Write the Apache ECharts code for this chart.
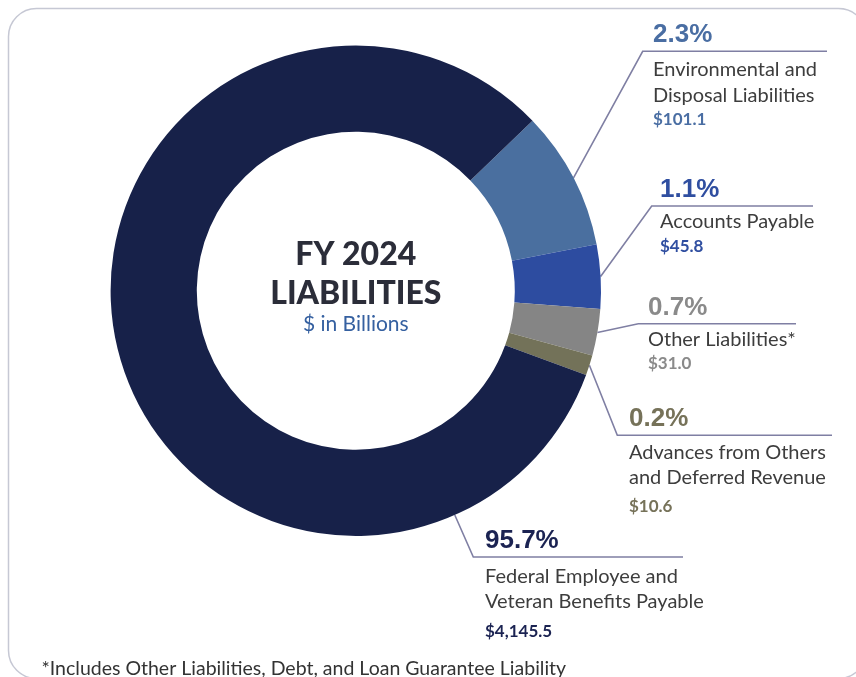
<!DOCTYPE html>
<html><head><meta charset="utf-8">
<script src="https://cdn.jsdelivr.net/npm/echarts@6/dist/echarts.min.js"></script>
<style>html,body{margin:0;padding:0;background:#fff}#c{width:856px;height:677px}</style>
</head><body><div id="c"></div>
<script>
// ---- data ----
const categories = ['Environmental and Disposal Liabilities', 'Accounts Payable', 'Other Liabilities*', 'Advances from Others and Deferred Revenue', 'Federal Employee and Veteran Benefits Payable'];
const nameLines = [['Environmental and', 'Disposal Liabilities'], ['Accounts Payable'], ['Other Liabilities*'], ['Advances from Others', 'and Deferred Revenue'], ['Federal Employee and', 'Veteran Benefits Payable']];
const percents = [2.3, 1.1, 0.7, 0.2, 95.7];
const amounts = [101.1, 45.8, 31.0, 10.6, 4145.5];
// sweep of each slice in degrees as drawn in the source graphic (not drawn to scale)
const arcDegrees = [33.0, 15.2, 11.0, 4.8, 296.0];

// ---- style / layout ----
const sliceColors = ['#4a6f9f', '#2d4ca0', '#858585', '#737259', '#172149'];
const accentColors = ['#4a6ea3', '#2f4ea0', '#8a8a8a', '#767259', '#1b2352'];
const labelBox = [
  { x: 653, base: 44.3, ruleStart: 642.7, ruleEnd: 827, gap: 6.5, valLH: 23.7, anchor: 'mid' },
  { x: 660, base: 199, ruleStart: 651.7, ruleEnd: 813, gap: 3.5, valLH: 24.7, anchor: 'mid' },
  { x: 648, base: 316.7, ruleStart: 638.3, ruleEnd: 796, gap: 3.9, valLH: 23.5, anchor: 'mid' },
  { x: 629, base: 428.3, ruleStart: 617.3, ruleEnd: 832, gap: 5, valLH: 31.9, anchor: 'mid' },
  { x: 485, base: 550, ruleStart: 473.3, ruleEnd: 683, gap: 7.3, valLH: 34.7, anchor: 'nearest' }
];
const CENTER = [355.8, 290.7], R_IN = 159, R_OUT = 245.2;

const rich = { n: { fontFamily: 'Lato', fontSize: 20, lineHeight: 25.5, color: '#3d3d3d' } };
labelBox.forEach((b, i) => {
  rich['p' + i] = { fontFamily: '"Liberation Sans", Arial, sans-serif', fontWeight: 'bold', fontSize: 26, lineHeight: 30, color: accentColors[i] };
  rich['g' + i] = { fontSize: 2, lineHeight: b.gap };
  rich['v' + i] = { fontFamily: 'Lato', fontWeight: 'bold', fontSize: 17, lineHeight: b.valLH, color: accentColors[i] };
});

const fmtAmt = v => '$' + v.toLocaleString('en-US', { minimumFractionDigits: 1, maximumFractionDigits: 1 });

const chart = echarts.init(document.getElementById('c'), null, { renderer: 'canvas' });
chart.setOption({
  animation: false,
  backgroundColor: '#ffffff',
  graphic: [
    { type: 'rect', silent: true, z: -10, shape: { x: 8.5, y: 8.5, width: 858, height: 670, r: 28 }, style: { fill: 'none', stroke: '#c6c8d4', lineWidth: 1.5 } },
    { type: 'text', silent: true, x: CENTER[0], y: 254.3, style: { text: 'FY 2024', fontFamily: 'Lato', fontWeight: 900, fontSize: 32, fill: '#2b2d39', align: 'center', verticalAlign: 'middle' } },
    { type: 'text', silent: true, x: CENTER[0], y: 293.6, style: { text: 'LIABILITIES', fontFamily: 'Lato', fontWeight: 900, fontSize: 32, fill: '#2b2d39', align: 'center', verticalAlign: 'middle' } },
    { type: 'text', silent: true, x: CENTER[0], y: 324, style: { text: '$ in Billions', fontFamily: 'Lato', fontSize: 21, fill: '#3560a0', align: 'center', verticalAlign: 'middle' } },
    { type: 'text', silent: true, x: 41.5, y: 668.5, style: { text: '*Includes Other Liabilities, Debt, and Loan Guarantee Liability', fontFamily: 'Lato', fontSize: 19.5, fill: '#333333', align: 'left', verticalAlign: 'middle' } }
  ],
  series: [{
    type: 'pie',
    silent: true,
    center: CENTER,
    radius: [R_IN, R_OUT],
    startAngle: 43.9,
    clockwise: true,
    avoidLabelOverlap: false,
    itemStyle: { borderWidth: 0 },
    label: {
      show: true,
      position: 'outside',
      width: 280,
      overflow: 'none',
      rich: rich,
      formatter: p => {
        const i = p.dataIndex;
        const rows = ['{p' + i + '|' + percents[i].toFixed(1) + '%}', '{g' + i + '| }'];
        nameLines[i].forEach(l => rows.push('{n|' + l + '}'));
        rows.push('{v' + i + '|' + fmtAmt(amounts[i]) + '}');
        return rows.join('\n');
      }
    },
    labelLine: { show: true, smooth: false, length: 10, length2: 10, lineStyle: { color: '#7f7fa3', width: 1.6 } },
    labelLayout: p => {
      const i = p.dataIndex, b = labelBox[i];
      const ry = b.base + 7;
      const corner = [b.ruleStart, ry];
      let anchor;
      if (b.anchor === 'mid' && p.labelLinePoints && p.labelLinePoints[0]) {
        anchor = p.labelLinePoints[0];
      } else {
        const dx = corner[0] - CENTER[0], dy = corner[1] - CENTER[1], d = Math.hypot(dx, dy);
        anchor = [CENTER[0] + dx / d * R_OUT, CENTER[1] + dy / d * R_OUT];
      }
      return { x: b.x, y: b.base - 24, align: 'left', verticalAlign: 'top', labelLinePoints: [anchor, corner, [b.ruleEnd, ry]] };
    },
    data: categories.map((c, i) => ({ name: c, value: arcDegrees[i], itemStyle: { color: sliceColors[i] } }))
  }]
});
</script>
</body></html>
